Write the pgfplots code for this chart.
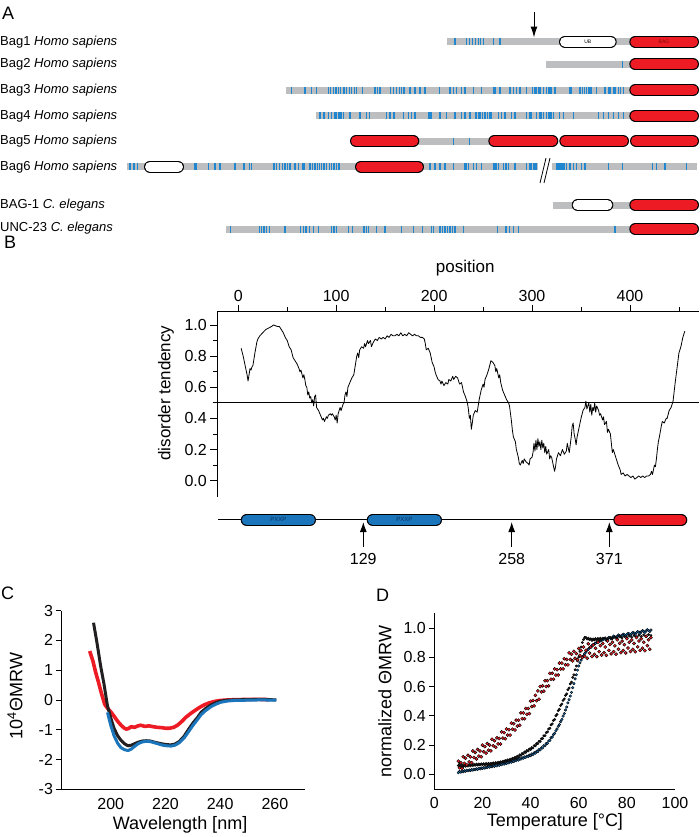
\documentclass[border=0pt]{standalone}
\usepackage{pgfplots}
\pgfplotsset{compat=1.18}
\usepackage{fontspec}
\setmainfont{Liberation Sans}
\usetikzlibrary{arrows.meta}
\definecolor{bagred}{HTML}{ED1C24}
\definecolor{bagblue}{HTML}{1B75BB}
\definecolor{tickblue}{HTML}{1F86CF}
\definecolor{baggray}{HTML}{BCBEC0}
\definecolor{cdblack}{HTML}{231F20}
\definecolor{darkred}{HTML}{7A0A0A}
\definecolor{navy}{HTML}{0B2F5B}

% pill shaped domain: ends (already inset by half the height), row, fill
\newcommand{\pill}[4]{%
  \addplot[black, line width=12pt, line cap=round, forget plot] coordinates {(#1,#3)(#2,#3)};
  \addplot[#4, line width=10pt, line cap=round, forget plot] coordinates {(#1,#3)(#2,#3)};}
\newcommand{\gbar}[3]{%
  \addplot[baggray, line width=7pt, forget plot] coordinates {(#1,#3)(#2,#3)};}

\pgfplotsset{
  bluetick/.style={tickblue, only marks, mark=|, mark size=3.5pt, mark options={draw=tickblue, line width=1.4pt}, forget plot},
}
\tikzset{
  rowlabel/.style={anchor=west, font=\fontsize{13}{15}\selectfont, inner sep=0pt},
  panel/.style={anchor=west, font=\fontsize{18}{20}\selectfont, inner sep=0pt},
}

\begin{document}
\begin{tikzpicture}
\useasboundingbox (0pt,0pt) rectangle (700pt,-837pt);

% ---------- canvas: panel A and the domain bar of B ----------
\begin{axis}[at={(0pt,0pt)}, anchor=north west, scale only axis, width=700pt, height=837pt,
  xmin=0, xmax=700, ymin=0, ymax=837, y dir=reverse, hide axis, clip=false]

\node[panel] at (axis cs:2,13) {A};
\node[panel] at (axis cs:4,242) {B};
\node[panel] at (axis cs:1,593) {C};
\node[panel] at (axis cs:376,595) {D};

\node[rowlabel] at (axis cs:0,41.7) {Bag1 \textit{Homo sapiens}};
\node[rowlabel] at (axis cs:0,64.3) {Bag2 \textit{Homo sapiens}};
\node[rowlabel] at (axis cs:0,90) {Bag3 \textit{Homo sapiens}};
\node[rowlabel] at (axis cs:0,115.7) {Bag4 \textit{Homo sapiens}};
\node[rowlabel] at (axis cs:0,141) {Bag5 \textit{Homo sapiens}};
\node[rowlabel] at (axis cs:0,166.7) {Bag6 \textit{Homo sapiens}};
\node[rowlabel] at (axis cs:0,205) {BAG-1 \textit{C. elegans}};
\node[rowlabel] at (axis cs:0,228) {UNC-23 \textit{C. elegans}};

% gray backbones
\gbar{447.3}{560}{41.7}
\gbar{612}{632}{41.7}
\gbar{546}{632}{64.3}
\gbar{286}{632}{90}
\gbar{316}{632}{115.7}
\gbar{418}{490}{141}
\gbar{127.3}{146}{166.7}
\gbar{182}{357}{166.7}
\gbar{422}{538.3}{166.7}
\gbar{551.7}{696.7}{166.7}
\gbar{553.3}{574}{205}
\gbar{610}{632}{205}
\gbar{226}{632}{229}

% blue ticks
\addplot[bluetick] coordinates {(455,41.7)(466.7,41.7)(469.3,41.7)(472.7,41.7)(475.3,41.7)(478.3,41.7)(480.7,41.7)(483.3,41.7)(493.3,41.7)(500,41.7)};
\addplot[bluetick] coordinates {(622.7,64.3)};
\addplot[bluetick] coordinates {(291.7,90)(304.3,90)(305.7,90)(311.7,90)(316.7,90)(328.3,90)(330.7,90)(333.3,90)(336,90)(338.3,90)(340.7,90)(344,90)(346.7,90)(349.3,90)(351.7,90)(354.3,90)(356.7,90)(362.7,90)(375,90)(377.7,90)(380,90)(390.7,90)(393.3,90)(396.7,90)(399.3,90)(401.7,90)(404,90)
 (410,90)(415,90)(420,90)(425,90)(439.3,90)(450,90)(453.3,90)(456.7,90)(461.7,90)(465,90)(473.3,90)(481.7,90)(493.3,90)(495,90)(500,90)(510,90)(513.3,90)(516.7,90)(520,90)(526.7,90)(532.7,90)(535,90)(536.7,90)(538.3,90)(540,90)(543.3,90)(546.7,90)(548.3,90)(550,90)(551.7,90)(555,90)(570,90)(571.7,90)(580,90)(582.7,90)(584.3,90)(586.7,90)(588.3,90)(590,90)(591.7,90)(596.7,90)(605,90)(608.3,90)(610,90)(613.3,90)(615,90)(618.3,90)(620.7,90)(623.3,90)};
\addplot[bluetick] coordinates {(320,115.7)(324,115.7)(328.3,115.7)(331.7,115.7)(335,115.7)(336.7,115.7)(338.3,115.7)(340,115.7)(341.7,115.7)(343.3,115.7)(350,115.7)(360,115.7)(366.7,115.7)(369.3,115.7)(386.7,115.7)(390,115.7)(394,115.7)(403.3,115.7)
 (408.3,115.7)(411.7,115.7)(415,115.7)(428.3,115.7)(430,115.7)(431.7,115.7)(440,115.7)(446.7,115.7)(455,115.7)(461.7,115.7)(465,115.7)(470,115.7)(476,115.7)(478.3,115.7)(480,115.7)(482.7,115.7)(485,115.7)(487.3,115.7)(490,115.7)(491.7,115.7)(498.3,115.7)(501.7,115.7)(505,115.7)(511.7,115.7)(515,115.7)(526.7,115.7)(530,115.7)(531.7,115.7)(536.7,115.7)(540,115.7)(541.7,115.7)(543.3,115.7)(546.7,115.7)(548.3,115.7)(550,115.7)(551.7,115.7)(553.3,115.7)(559.3,115.7)(563.3,115.7)(573.3,115.7)(598.3,115.7)(603.3,115.7)(608.3,115.7)(613.3,115.7)(618.3,115.7)(623.3,115.7)};
\addplot[bluetick] coordinates {(453.3,141)(469.3,141)};
\addplot[bluetick] coordinates {(130,166.7)(134,166.7)(137.3,166.7)(195,166.7)(196.7,166.7)(208.3,166.7)(215,166.7)(220,166.7)(235,166.7)(244,166.7)(249.3,166.7)(251.7,166.7)(274,166.7)(276.7,166.7)(279.3,166.7)(282.7,166.7)(285,166.7)(287.3,166.7)(290,166.7)(295,166.7)(298.3,166.7)(302.7,166.7)(304,166.7)(310,166.7)(312.7,166.7)(315,166.7)(317.3,166.7)(319.3,166.7)(321.7,166.7)(324,166.7)(326.7,166.7)(329.3,166.7)(331.7,166.7)(334,166.7)(336.7,166.7)(339,166.7)
 (430,166.7)(435,166.7)(440,166.7)(445,166.7)(453.3,166.7)(465,166.7)(466.7,166.7)(468.3,166.7)(473.3,166.7)(476.7,166.7)(481.7,166.7)(493.3,166.7)(495,166.7)(496.7,166.7)(498.3,166.7)(503.3,166.7)(506,166.7)(508.3,166.7)(515,166.7)(526.7,166.7)(530,166.7)(531.7,166.7)(533.3,166.7)(535,166.7)(536.7,166.7)
 (556.7,166.7)(558,166.7)(559.3,166.7)(560.7,166.7)(562,166.7)(563.3,166.7)(564.7,166.7)(566.7,166.7)(570,166.7)(573.3,166.7)(576.7,166.7)(581.7,166.7)(585,166.7)(608.3,166.7)(622.7,166.7)(652.7,166.7)(656.7,166.7)(665,166.7)(686.7,166.7)};
\addplot[bluetick] coordinates {(230.7,229)(259.3,229)(261.7,229)(264,229)(266.7,229)(269.3,229)(285,229)(300.7,229)(303.3,229)(306,229)(309.3,229)(313.3,229)(318.3,229)(331.7,229)(334,229)(336.7,229)(348.3,229)(352.7,229)(364,229)(366.7,229)(368.3,229)(376.7,229)(385,229)(401.7,229)(413.3,229)(422.7,229)(431.7,229)(433.3,229)(440,229)(442.7,229)(445,229)(447.3,229)(450,229)(452.7,229)(455,229)(463.3,229)(497.3,229)(506,229)(509.3,229)(513.3,229)(518.3,229)(615,229)};

% domains
\pill{565}{610.7}{41.7}{white}
\node[font=\fontsize{5}{6}\selectfont] at (axis cs:587.8,41.7) {UB};
\pill{635.3}{693}{41.7}{bagred}
\node[font=\fontsize{5}{6}\selectfont, text=darkred] at (axis cs:664,41.7) {BAG};
\pill{635.3}{693}{64.3}{bagred}
\pill{635.3}{693}{90}{bagred}
\pill{635.3}{693}{115.7}{bagred}
\pill{356}{413.3}{141}{bagred}
\pill{494.3}{552.3}{141}{bagred}
\pill{565.3}{623}{141}{bagred}
\pill{636}{693}{141}{bagred}
\pill{150}{178}{166.7}{white}
\pill{361}{418}{166.7}{bagred}
\pill{577.7}{607.3}{205}{white}
\pill{635.3}{693}{205}{bagred}
\pill{635.3}{693}{229}{bagred}

% break mark and arrow
\addplot[black, line width=0.8pt, forget plot] coordinates {(540,183)(546,158)};
\addplot[black, line width=0.8pt, forget plot] coordinates {(544,183)(550,158)};
\addplot[black, line width=1pt, -{Latex[length=11pt,width=7pt]}, forget plot] coordinates {(534,12)(534,37.5)};

% domain bar of panel B
\addplot[black, line width=0.8pt, forget plot] coordinates {(218.3,519)(615,519)};
\pill{246.7}{310}{520}{bagblue}
\pill{372.7}{436}{520}{bagblue}
\pill{619.3}{681.3}{520}{bagred}
\node[font=\fontsize{6}{7}\selectfont, text=navy] at (axis cs:278.3,519) {PXXP};
\node[font=\fontsize{6}{7}\selectfont, text=navy] at (axis cs:404.3,519) {PXXP};
\addplot[black, line width=1pt, -{Latex[length=10pt,width=7pt]}, forget plot] coordinates {(363.3,547)(363.3,522)};
\addplot[black, line width=1pt, -{Latex[length=10pt,width=7pt]}, forget plot] coordinates {(511.7,547)(511.7,522)};
\addplot[black, line width=1pt, -{Latex[length=10pt,width=7pt]}, forget plot] coordinates {(609.3,547)(609.3,522)};
\node[font=\fontsize{16}{18}\selectfont] at (axis cs:363.3,559) {129};
\node[font=\fontsize{16}{18}\selectfont] at (axis cs:511.7,559) {258};
\node[font=\fontsize{16}{18}\selectfont] at (axis cs:609.3,559) {371};
\end{axis}

% ---------- panel B: disorder tendency ----------
\begin{axis}[at={(217.3pt,-311.7pt)}, anchor=north west, scale only axis, width=481.4pt, height=185pt,
  xmin=-21.4, xmax=470.2, ymin=-0.103, ymax=1.085, clip=false,
  axis x line*=top, axis y line*=left,
  xtick={0,100,...,400}, minor xtick={50,150,...,450},
  ytick={0,0.2,...,1.0}, minor ytick={0.1,0.3,...,0.9},
  tick align=outside, major tick length=7pt, minor tick length=4.5pt,
  every tick/.style={black, line width=0.8pt}, axis line style={line width=0.8pt},
  /pgf/number format/assume math mode=true,
  yticklabel style={/pgf/number format/fixed, /pgf/number format/fixed zerofill, /pgf/number format/precision=1},
  tick label style={font=\fontsize{16}{18}\selectfont},
  xlabel={position}, ylabel={disorder tendency},
  every axis x label/.style={at={([yshift=43.7pt]rel axis cs:0.515,1)}, anchor=center, font=\fontsize{17}{19}\selectfont},
  every axis y label/.style={at={([xshift=-51.3pt]rel axis cs:0,0.56)}, anchor=center, rotate=90, font=\fontsize{17}{19}\selectfont}]
\addplot[black, line width=0.8pt] coordinates {(-26,0.5)(470.2,0.5)};
\addplot[black, line width=0.8pt, line join=round] coordinates {
(3,0.85)(5,0.80)(7,0.74)(9,0.68)(10,0.64)(11,0.68)(12,0.72)(13,0.71)(14,0.73)(15,0.74)(17,0.82)(19,0.89)(20,0.91)(22,0.93)(25,0.95)(28,0.97)(31,0.98)(34,0.99)(36,1.00)(38,0.995)(40,0.99)(42,0.99)(44,0.97)(46,0.95)(48,0.92)(50,0.90)(52,0.86)(54,0.84)(56,0.79)(58,0.77)(60,0.75)(62,0.72)(63,0.70)(64,0.71)(66,0.66)(67,0.68)(68,0.65)(69,0.61)(70,0.60)(71,0.55)(72,0.57)(73,0.53)(74,0.54)(75,0.50)(76,0.52)(77,0.48)(78,0.54)(79,0.55)(80,0.47)(82,0.45)(84,0.42)(86,0.39)(87,0.40)(88,0.38)(90,0.41)(91,0.40)(92,0.42)(94,0.43)(95,0.42)(96,0.43)(98,0.41)(99,0.39)(100,0.42)(101,0.37)(102,0.43)(104,0.47)(105,0.45)(107,0.49)(108,0.50)(109,0.55)(110,0.57)(111,0.54)(112,0.60)(114,0.63)(116,0.66)(118,0.68)(119,0.72)(120,0.76)(121,0.80)(122,0.82)(123,0.79)(124,0.84)(126,0.86)(128,0.85)(129,0.88)(130,0.86)(132,0.90)(133,0.88)(135,0.90)(136,0.86)(138,0.89)(140,0.91)(142,0.90)(144,0.92)(146,0.91)(148,0.92)(150,0.91)(152,0.93)(154,0.92)(156,0.94)(158,0.93)(160,0.93)(162,0.94)(164,0.93)(166,0.95)(168,0.93)(170,0.94)(172,0.93)(174,0.95)(176,0.94)(178,0.93)(180,0.94)(182,0.93)(184,0.93)(186,0.92)(188,0.92)(190,0.91)(191,0.88)(192,0.84)(194,0.85)(196,0.82)(198,0.76)(200,0.73)(201,0.70)(202,0.68)(204,0.65)(206,0.64)(207,0.62)(208,0.64)(210,0.61)(212,0.63)(214,0.62)(215,0.65)(217,0.64)(219,0.67)(220,0.65)(222,0.67)(224,0.66)(226,0.62)(228,0.63)(230,0.57)(232,0.54)(234,0.50)(235,0.46)(236,0.40)(237,0.42)(238,0.33)(239,0.37)(240,0.42)(242,0.45)(244,0.44)(246,0.52)(248,0.58)(250,0.62)(251,0.60)(252,0.65)(254,0.68)(256,0.72)(258,0.77)(260,0.76)(262,0.74)(263,0.70)(264,0.72)(266,0.66)(267,0.68)(268,0.63)(270,0.58)(272,0.55)(274,0.52)(276,0.50)(277,0.48)(279,0.38)(280,0.32)(281,0.28)(283,0.25)(284,0.20)(286,0.15)(287,0.11)(288,0.10)(290,0.13)(291,0.11)(292,0.14)(294,0.12)(296,0.11)(297,0.10)(298,0.14)(300,0.15)(301,0.18)(302,0.24)(303,0.19)(304,0.26)(305,0.20)(306,0.27)(307,0.22)(308,0.25)(309,0.20)(310,0.26)(311,0.21)(312,0.24)(313,0.18)(314,0.22)(315,0.17)(317,0.20)(318,0.14)(319,0.16)(320,0.15)(321,0.12)(322,0.09)(323,0.06)(324,0.09)(325,0.14)(327,0.18)(329,0.16)(331,0.20)(333,0.17)(335,0.19)(336,0.24)(338,0.18)(340,0.28)(341,0.35)(342,0.37)(343,0.30)(344,0.27)(345,0.23)(346,0.28)(348,0.34)(350,0.40)(352,0.45)(354,0.47)(355,0.51)(356,0.46)(358,0.50)(359,0.44)(360,0.49)(361,0.42)(362,0.47)(363,0.45)(364,0.50)(365,0.44)(366,0.48)(368,0.45)(369,0.42)(370,0.43)(372,0.39)(373,0.41)(374,0.36)(376,0.38)(377,0.31)(378,0.33)(380,0.30)(382,0.18)(383,0.20)(385,0.16)(386,0.14)(388,0.10)(390,0.07)(391,0.04)(393,0.05)(395,0.03)(397,0.04)(399,0.03)(401,0.02)(403,0.03)(405,0.01)(407,0.02)(409,0.03)(411,0.02)(413,0.03)(415,0.02)(417,0.03)(419,0.03)(421,0.04)(422,0.06)(423,0.04)(425,0.10)(426,0.09)(427,0.14)(428,0.20)(429,0.25)(430,0.28)(432,0.35)(433,0.38)(435,0.37)(437,0.40)(438,0.40)(440,0.45)(442,0.47)(444,0.51)(446,0.62)(448,0.72)(450,0.82)(452,0.86)(454,0.92)(456,0.96)};
\end{axis}

% ---------- panel C: CD spectra ----------
\begin{axis}[at={(61.5pt,-610.5pt)}, anchor=north west, scale only axis, width=243.5pt, height=178.8pt,
  xmin=182, xmax=271, ymin=-3, ymax=3,
  axis x line*=bottom, axis y line*=left,
  xtick={200,220,240,260}, ytick={-3,...,3},
  x tick style={draw=none}, y tick style={black, line width=0.8pt},
  tick align=outside, major tick length=5pt, axis line style={line width=0.8pt},
  /pgf/number format/assume math mode=true,
  tick label style={font=\fontsize{16}{18}\selectfont},
  xlabel={Wavelength [nm]}, ylabel={10\textsuperscript{4}ΘMRW},
  every axis x label/.style={at={([yshift=-35.7pt]rel axis cs:0.487,0)}, anchor=center, font=\fontsize{18}{20}\selectfont},
  every axis y label/.style={at={([xshift=-46.5pt]rel axis cs:0,0.522)}, anchor=center, rotate=90, font=\fontsize{18}{20}\selectfont}]
\addplot[bagred, line width=3.6pt, line join=round] coordinates {(192.3,1.64)(193.5,1.3)(194.5,0.92)(195.5,0.6)(196.5,0.25)(197.8,-0.15)(199,-0.3)(200,-0.4)(201,-0.52)(202,-0.65)(203,-0.77)(204,-0.87)(205,-0.95)(205.7,-0.98)(206.5,-0.96)(207.5,-0.9)(208.7,-0.92)(210,-0.87)(211,-0.85)(212.5,-0.89)(214,-0.87)(215.5,-0.9)(217,-0.92)(218.5,-0.93)(220,-0.95)(221.5,-0.95)(223,-0.92)(224.4,-0.85)(226,-0.72)(227.5,-0.58)(229.3,-0.45)(231,-0.34)(232.5,-0.25)(234.1,-0.17)(236,-0.1)(238,-0.05)(240,-0.02)(243,0.0)(247,0.01)(252,0.02)(258,0.01)};
\addplot[cdblack, line width=3pt, line join=round] coordinates {(193.7,2.59)(195,1.9)(196.3,1.14)(197.5,0.55)(198.8,-0.2)(200,-0.6)(201.2,-0.95)(202.5,-1.2)(203.7,-1.35)(205,-1.47)(206.3,-1.54)(207.5,-1.52)(208.7,-1.47)(210,-1.42)(211.5,-1.38)(213,-1.37)(214.5,-1.38)(216,-1.42)(217.5,-1.45)(219,-1.48)(220.5,-1.5)(222,-1.51)(223.5,-1.48)(225,-1.4)(226.8,-1.22)(228.5,-0.98)(230,-0.78)(231.7,-0.59)(233,-0.42)(234.5,-0.3)(236.6,-0.17)(238.5,-0.09)(240.2,-0.04)(242.5,-0.01)(245,0.0)(250,0.01)(255,0.02)(260.5,0.0)};
\addplot[bagblue, line width=3pt, line join=round] coordinates {(198.8,-0.42)(200,-0.85)(201.2,-1.2)(202.5,-1.45)(203.7,-1.6)(205,-1.67)(206.3,-1.7)(207.5,-1.65)(208.7,-1.56)(210,-1.47)(211.5,-1.41)(213,-1.39)(214.5,-1.4)(216,-1.44)(217.5,-1.48)(219,-1.52)(220.5,-1.54)(222,-1.55)(223.5,-1.52)(225,-1.44)(226.8,-1.28)(228.5,-1.06)(230,-0.86)(231.7,-0.66)(233,-0.5)(234.5,-0.37)(236.6,-0.23)(238.5,-0.14)(240.2,-0.08)(242.5,-0.04)(245,-0.02)(250,-0.01)(255,0.0)(260.5,-0.01)};
\end{axis}

% ---------- panel D: thermal unfolding ----------
\begin{axis}[at={(434.3pt,-613.3pt)}, anchor=north west, scale only axis, width=240.7pt, height=175.7pt,
  xmin=0, xmax=100, ymin=-0.1, ymax=1.1,
  axis x line*=bottom, axis y line*=left, hide obscured x ticks=false,
  xtick={0,20,...,100}, ytick={0,0.2,...,1.0},
  x tick style={draw=none}, y tick style={black, line width=0.8pt},
  tick align=outside, major tick length=5pt, axis line style={line width=0.8pt},
  /pgf/number format/assume math mode=true,
  yticklabel style={/pgf/number format/fixed, /pgf/number format/fixed zerofill, /pgf/number format/precision=1},
  tick label style={font=\fontsize{16}{18}\selectfont},
  xlabel={Temperature [°C]}, ylabel={normalized ΘMRW},
  every axis x label/.style={at={([yshift=-32.7pt]rel axis cs:0.501,0)}, anchor=center, font=\fontsize{18}{20}\selectfont},
  every axis y label/.style={at={([xshift=-49.3pt]rel axis cs:0,0.497)}, anchor=center, rotate=90, font=\fontsize{18}{20}\selectfont}]
\addplot[only marks, mark=*, mark size=1.3pt, mark options={draw=none, fill=bagblue}] coordinates {
(10,.012)(10.5,.020)(11,.015)(11.5,.022)(12,.018)(12.5,.025)(13,.021)(13.5,.028)(14,.024)(14.5,.030)(15,.026)(15.5,.033)(16,.029)(16.5,.035)(17,.032)(17.5,.038)(18,.034)(18.5,.041)(19,.037)(19.5,.044)(20,.040)(20.5,.047)(21,.043)(21.5,.049)(22,.046)(22.5,.053)(23,.049)(23.5,.056)(24,.052)(24.5,.059)(25,.055)(25.5,.062)(26,.058)(26.5,.066)(27,.062)(27.5,.070)(28,.066)(28.5,.073)(29,.070)(29.5,.078)(30,.074)(30.5,.082)(31,.078)(31.5,.087)(32,.083)(32.5,.092)(33,.088)(33.5,.097)(34,.093)(34.5,.102)(35,.098)(35.5,.108)(36,.104)(36.5,.113)(37,.110)(37.5,.119)(38,.116)(38.5,.125)(39,.122)(39.5,.131)(40,.128)(40.5,.139)(41,.136)(41.5,.148)(42,.145)(42.5,.158)(43,.155)(43.5,.170)(44,.167)(44.5,.182)(45,.180)(45.5,.196)(46,.195)(46.5,.211)(47,.212)(47.5,.228)(48,.232)(48.5,.250)(49,.255)(49.5,.272)(50,.280)(50.5,.298)(51,.310)(51.5,.328)(52,.340)(52.5,.360)(53,.375)(53.5,.398)(54,.415)(54.5,.440)(55,.460)(55.5,.488)(56,.510)(56.5,.535)(57,.560)(57.5,.592)(58,.620)(58.5,.652)(59,.680)(59.5,.712)(60,.740)(60.5,.762)(61,.780)(61.5,.798)(62,.810)(62.5,.825)(63,.835)(63.5,.848)(64,.855)(64.5,.865)(65,.870)(65.5,.880)(66,.885)(66.5,.892)(67,.895)(67.5,.902)(68,.905)(68.5,.910)(69,.912)(69.5,.917)(70,.918)(70.5,.928)(71,.923)(71.5,.915)(72,.928)(72.5,.935)(73,.932)(73.5,.925)(74,.936)(74.5,.945)(75,.940)(75.5,.932)(76,.944)(76.5,.952)(77,.947)(77.5,.940)(78,.950)(78.5,.958)(79,.953)(79.5,.947)(80,.956)(80.5,.963)(81,.959)(81.5,.952)(82,.962)(82.5,.970)(83,.965)(83.5,.958)(84,.968)(84.5,.975)(85,.971)(85.5,.963)(86,.974)(86.5,.982)(87,.977)(87.5,.970)(88,.980)(88.5,.988)(89,.983)(89.5,.975)(90,.986)};
\addplot[only marks, mark=*, mark size=1.2pt, mark options={draw=none, fill=cdblack}] coordinates {
(10,.060)(10.5,.070)(11,.055)(11.5,.065)(12,.052)(12.5,.062)(13,.055)(13.5,.063)(14,.057)(14.5,.066)(15,.058)(15.5,.067)(16,.060)(16.5,.069)(17,.062)(17.5,.070)(18,.063)(18.5,.071)(19,.065)(19.5,.072)(20,.066)(20.5,.073)(21,.066)(21.5,.074)(22,.067)(22.5,.075)(23,.068)(23.5,.076)(24,.070)(24.5,.078)(25,.072)(25.5,.080)(26,.075)(26.5,.083)(27,.078)(27.5,.086)(28,.082)(28.5,.090)(29,.086)(29.5,.094)(30,.090)(30.5,.099)(31,.095)(31.5,.104)(32,.100)(32.5,.110)(33,.106)(33.5,.116)(34,.112)(34.5,.124)(35,.120)(35.5,.133)(36,.130)(36.5,.143)(37,.140)(37.5,.153)(38,.150)(38.5,.163)(39,.160)(39.5,.173)(40,.170)(40.5,.183)(41,.180)(41.5,.196)(42,.195)(42.5,.210)(43,.210)(43.5,.225)(44,.225)(44.5,.243)(45,.245)(45.5,.263)(46,.265)(46.5,.285)(47,.290)(47.5,.310)(48,.315)(48.5,.338)(49,.345)(49.5,.368)(50,.375)(50.5,.400)(51,.410)(51.5,.435)(52,.445)(52.5,.470)(53,.480)(53.5,.505)(54,.515)(54.5,.540)(55,.550)(55.5,.578)(56,.590)(56.5,.618)(57,.630)(57.5,.662)(58,.680)(58.5,.715)(59,.740)(59.5,.775)(60,.800)(60.5,.840)(61,.870)(61.5,.900)(62,.920)(62.5,.935)(63,.935)(63.5,.925)(64,.930)(64.5,.920)(65,.925)(65.5,.915)(66,.925)(66.5,.918)(67,.927)(67.5,.920)(68,.928)(68.5,.921)(69,.930)(69.5,.922)(70,.930)(71,.932)(72,.925)(73,.935)(74,.928)(75,.937)(76,.930)(77,.940)(78,.932)(79,.942)(80,.935)(81,.945)(82,.937)(83,.948)(84,.940)(85,.950)(86,.942)(87,.952)(88,.945)(89,.955)(90,.948)};
\addplot[only marks, mark=*, mark size=1.6pt, mark options={draw=none, fill=bagred}] coordinates {
(10,.090)(10.5,.045)(11,.080)(11.5,.040)(12,.120)(12.5,.075)(13,.110)(13.5,.065)(14,.130)(14.5,.085)(15,.120)(15.5,.080)(16,.160)(16.5,.115)(17,.150)(17.5,.105)(18,.170)(18.5,.125)(19,.160)(19.5,.120)(20,.200)(20.5,.155)(21,.190)(21.5,.145)(22,.210)(22.5,.165)(23,.200)(23.5,.160)(24,.240)(24.5,.195)(25,.230)(25.5,.185)(26,.250)(26.5,.208)(27,.245)(27.5,.208)(28,.290)(28.5,.248)(29,.285)(29.5,.243)(30,.310)(30.5,.268)(31,.305)(31.5,.268)(32,.350)(32.5,.308)(33,.345)(33.5,.303)(34,.370)(34.5,.330)(35,.370)(35.5,.335)(36,.420)(36.5,.380)(37,.420)(37.5,.380)(38,.450)(38.5,.410)(39,.450)(39.5,.415)(40,.500)(40.5,.463)(41,.505)(41.5,.468)(42,.540)(42.5,.503)(43,.570)(43.5,.513)(44,.600)(44.5,.563)(45,.605)(45.5,.568)(46,.640)(46.5,.600)(47,.640)(47.5,.605)(48,.690)(48.5,.650)(49,.690)(49.5,.650)(50,.720)(50.5,.678)(51,.715)(51.5,.678)(52,.760)(52.5,.720)(53,.760)(53.5,.720)(54,.790)(54.5,.748)(55,.785)(55.5,.748)(56,.830)(56.5,.785)(57,.820)(57.5,.775)(58,.840)(58.5,.793)(59,.825)(59.5,.783)(60,.860)(60.5,.813)(61,.845)(61.5,.798)(62,.870)(62.5,.807)(63,.848)(63.5,.793)(64,.892)(64.5,.828)(65,.869)(65.5,.805)(66,.884)(66.5,.820)(67,.861)(67.5,.804)(68,.902)(68.5,.838)(69,.879)(69.5,.815)(70,.894)(70.5,.830)(71,.870)(71.5,.813)(72,.911)(72.5,.847)(73,.887)(73.5,.823)(74,.902)(74.5,.838)(75,.878)(75.5,.821)(76,.919)(76.5,.855)(77,.895)(77.5,.831)(78,.910)(78.5,.846)(79,.886)(79.5,.829)(80,.927)(80.5,.863)(81,.903)(81.5,.839)(82,.918)(82.5,.854)(83,.894)(83.5,.837)(84,.935)(84.5,.871)(85,.911)(85.5,.847)(86,.926)(86.5,.862)(87,.902)(87.5,.845)(88,.943)(88.5,.879)(89,.919)(89.5,.855)(90,.934)};
\end{axis}
\end{tikzpicture}
\end{document}
